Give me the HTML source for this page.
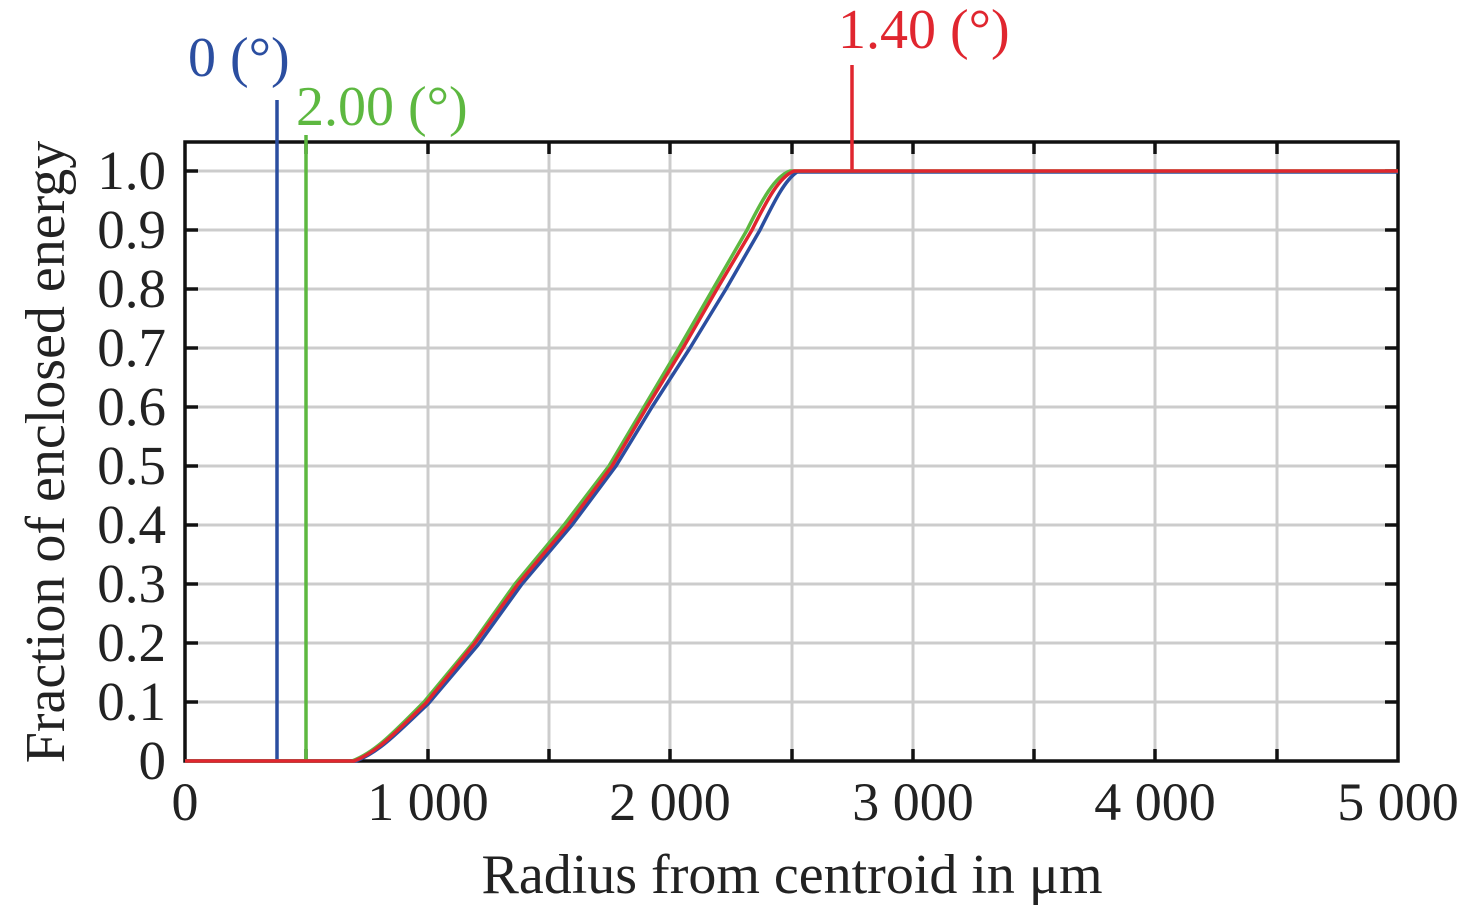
<!DOCTYPE html>
<html><head><style>body{margin:0;background:#fff}svg{display:block}</style></head><body>
<svg width="1476" height="910" xmlns="http://www.w3.org/2000/svg" font-family="Liberation Serif, serif">
<g stroke="#cccccc" stroke-width="3">
<line x1="306" y1="142" x2="306" y2="761"/><line x1="428" y1="142" x2="428" y2="761"/><line x1="549" y1="142" x2="549" y2="761"/><line x1="670" y1="142" x2="670" y2="761"/><line x1="792" y1="142" x2="792" y2="761"/><line x1="913" y1="142" x2="913" y2="761"/><line x1="1034" y1="142" x2="1034" y2="761"/><line x1="1155" y1="142" x2="1155" y2="761"/><line x1="1277" y1="142" x2="1277" y2="761"/>
<line x1="185" y1="171" x2="1398" y2="171"/><line x1="185" y1="230" x2="1398" y2="230"/><line x1="185" y1="289" x2="1398" y2="289"/><line x1="185" y1="348" x2="1398" y2="348"/><line x1="185" y1="407" x2="1398" y2="407"/><line x1="185" y1="466" x2="1398" y2="466"/><line x1="185" y1="525" x2="1398" y2="525"/><line x1="185" y1="584" x2="1398" y2="584"/><line x1="185" y1="643" x2="1398" y2="643"/><line x1="185" y1="702" x2="1398" y2="702"/>
</g>
<g stroke="#111" stroke-width="3.5">
<rect x="185" y="142" width="1213" height="619" fill="none"/>
<path d="M306 761v-12M428 761v-12M549 761v-12M670 761v-12M792 761v-12M913 761v-12M1034 761v-12M1155 761v-12M1277 761v-12M306 142v12M428 142v12M549 142v12M670 142v12M792 142v12M913 142v12M1034 142v12M1155 142v12M1277 142v12"/>
<path d="M185 171h13M185 230h13M185 289h13M185 348h13M185 407h13M185 466h13M185 525h13M185 584h13M185 643h13M185 702h13M1398 171h-13M1398 230h-13M1398 289h-13M1398 348h-13M1398 407h-13M1398 466h-13M1398 525h-13M1398 584h-13M1398 643h-13M1398 702h-13"/>
</g>
<line x1="277" y1="100" x2="277" y2="761" stroke="#2b4ea0" stroke-width="3.5"/>
<line x1="306" y1="135" x2="306" y2="761" stroke="#5db840" stroke-width="3.5"/>
<line x1="852" y1="65" x2="852" y2="171" stroke="#e0262f" stroke-width="3.5"/>
<g fill="none" stroke-width="3.5" stroke-linejoin="round">
<path stroke="#2b4ea0" d="M185 761H356C380 752 400 730 428 704L478 645L522 584L572 525L616 466L652 407L690 348L726 289L760 230C775 200 785 180 797 172H1398"/>
<path stroke="#5db840" d="M185 761H352C376 752 396 730 424 702L473 643L515 584L564 525L609 466L644 407L679 348L713 289L747 230C762 200 775 176 790 171H1398"/>
<path stroke="#e0262f" d="M185 761H354C378 752 398 730 426 703L475 643L518 584L568 525L612 466L647 407L683 348L717 289L752 230C767 200 779 177 794 171H1398"/>
</g>
<g font-size="55" fill="#222" text-anchor="end">
<text x="166" y="189">1.0</text><text x="166" y="248">0.9</text><text x="166" y="307">0.8</text><text x="166" y="366">0.7</text><text x="166" y="425">0.6</text><text x="166" y="484">0.5</text><text x="166" y="543">0.4</text><text x="166" y="602">0.3</text><text x="166" y="661">0.2</text><text x="166" y="720">0.1</text><text x="166" y="779">0</text>
</g>
<g font-size="54" fill="#222" text-anchor="middle">
<text x="185" y="820">0</text><text x="428" y="820">1 000</text><text x="670" y="820">2 000</text><text x="913" y="820">3 000</text><text x="1155" y="820">4 000</text><text x="1398" y="820">5 000</text>
</g>
<g font-size="56" fill="#222" text-anchor="middle">
<text x="792" y="893">Radius from centroid in μm</text>
<text transform="translate(64,452) rotate(-90)">Fraction of enclosed energy</text>
</g>
<g font-size="56">
<text x="188" y="76" fill="#2b4ea0">0 (°)</text>
<text x="296" y="125" fill="#5db840">2.00 (°)</text>
<text x="838" y="48" fill="#e0262f">1.40 (°)</text>
</g>
</svg>
</body></html>
